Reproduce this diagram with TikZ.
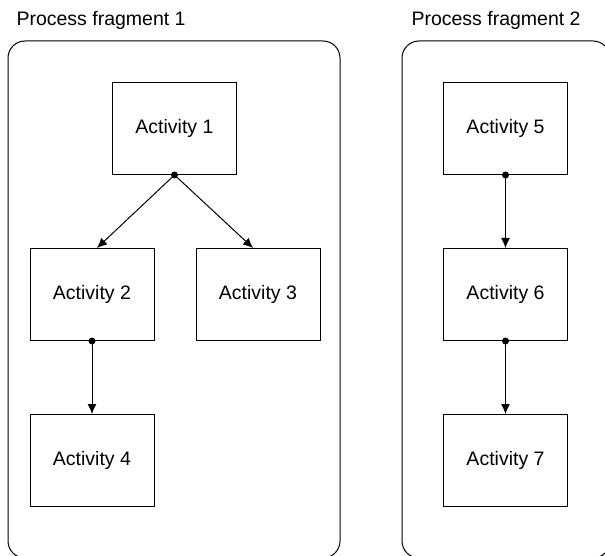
\documentclass[tikz,border=0pt]{standalone}
\usepackage{fontspec}
\setmainfont{Liberation Sans}
\usetikzlibrary{positioning,arrows.meta}

\begin{document}
\begin{tikzpicture}[x=1pt, y=-1pt, font=\fontsize{19.5}{23}\selectfont,
    activity/.style={draw, line width=1pt, minimum width=124pt, minimum height=92pt, inner sep=0pt},
    fragment/.style={draw, line width=1pt, rounded corners=17pt},
    flow/.style={line width=1pt, -{Latex[length=10pt,width=9pt]}},
    knot/.style={circle, fill, inner sep=0pt, minimum size=7pt}]
    \useasboundingbox (0,0) rectangle (605,556);
    % the two fragments
    \draw[fragment] (8,41) rectangle (340,558);
    \draw[fragment] (402,41) rectangle (610,558);
    \node[anchor=base west] (title1) at (13,26) {Process fragment 1};
    \node[anchor=base west] (title2) at (408,26) {Process fragment 2};
    % fragment 1
    \node[activity] (act1) at (174.5,128.5) {Activity 1};
    \node[activity, below=73pt of act1, xshift=-82.5pt] (act2) {Activity 2};
    \node[activity, right=41pt of act2] (act3) {Activity 3};
    \node[activity, below=73pt of act2] (act4) {Activity 4};
    \node[knot] (knot1) at (act1.south) {};
    \node[knot] (knot2) at (act2.south) {};
    \draw[flow] (knot1.center) -- ([xshift=5pt]act2.north);
    \draw[flow] (knot1.center) -- ([xshift=-5pt]act3.north);
    \draw[flow] (knot2.center) -- (act4.north);
    % fragment 2
    \node[activity] (act5) at (505.5,128.5) {Activity 5};
    \node[activity, below=73pt of act5] (act6) {Activity 6};
    \node[activity, below=73pt of act6] (act7) {Activity 7};
    \node[knot] (knot5) at (act5.south) {};
    \node[knot] (knot6) at (act6.south) {};
    \draw[flow] (knot5.center) -- (act6.north);
    \draw[flow] (knot6.center) -- (act7.north);
\end{tikzpicture}
\end{document}
